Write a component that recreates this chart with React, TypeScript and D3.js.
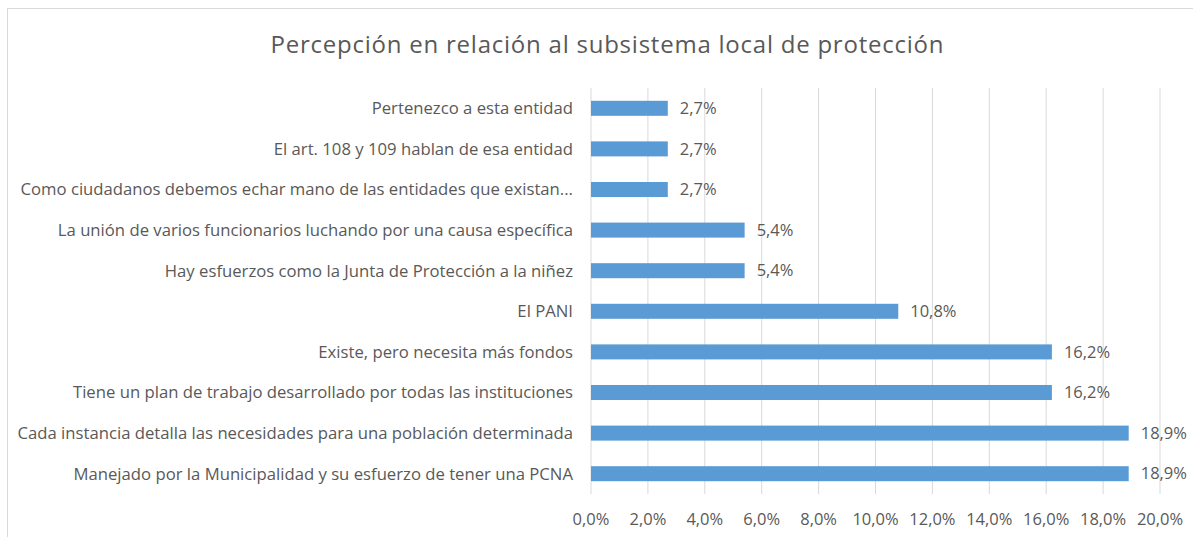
import React from "react";
import * as d3 from "d3";

const categories = [
  "Pertenezco a esta entidad",
  "El art. 108 y 109 hablan de esa entidad",
  "Como ciudadanos debemos echar mano de las entidades que existan...",
  "La unión de varios funcionarios luchando por una causa específica",
  "Hay esfuerzos como la Junta de Protección a la niñez",
  "El PANI",
  "Existe, pero necesita más fondos",
  "Tiene un plan de trabajo desarrollado por todas las instituciones",
  "Cada instancia detalla las necesidades para una población determinada",
  "Manejado por la Municipalidad y su esfuerzo de tener una PCNA",
];
const values = [2.7, 2.7, 2.7, 5.4, 5.4, 10.8, 16.2, 16.2, 18.9, 18.9];
const ticks = [0, 2, 4, 6, 8, 10, 12, 14, 16, 18, 20];

const title = "Percepción en relación al subsistema local de protección";
const font = "'Open Sans', 'Liberation Sans', sans-serif";
const grey = "#595959";

export default function App() {
  const x = d3.scaleLinear().domain([0, 20]).range([591, 1160]);
  const y = d3.scaleBand().domain(categories).range([88, 494]).paddingInner(0.63).paddingOuter(0.315);
  const fmt = (v: number) => v.toFixed(1).replace(".", ",") + "%";

  return (
    <svg width={1193} height={537} style={{ position: "absolute", left: 0, top: 0 }}>
      <rect x={0} y={0} width={1193} height={537} fill="#fff" />
      <rect x={7.5} y={8.5} width={1200} height={540} fill="#fff" stroke="#d9d9d9" />
      <text
        x={607}
        y={53}
        textAnchor="middle"
        fontFamily={font}
        fontSize={24}
        fill={grey}
        textLength={673}
        lengthAdjust="spacing"
      >
        {title}
      </text>
      {/* grid */}
      {ticks.map((t) => (
        <line key={t} x1={x(t)} x2={x(t)} y1={88} y2={494} stroke="#d9d9d9" strokeWidth={1} />
      ))}
      {/* bars */}
      {categories.map((c, i) => (
        <g key={c}>
          <rect x={x(0)} y={y(c)} width={x(values[i]) - x(0)} height={y.bandwidth()} fill="#5b9bd5" />
          <text
            x={x(values[i]) + 12}
            y={y(c)! + y.bandwidth() / 2}
            dy="0.35em"
            fontFamily={font}
            fontSize={16.5}
            fill={grey}
          >
            {fmt(values[i])}
          </text>
          <text
            x={573}
            y={y(c)! + y.bandwidth() / 2}
            dy="0.35em"
            textAnchor="end"
            fontFamily={font}
            fontSize={16.7}
            fill={grey}
          >
            {c}
          </text>
        </g>
      ))}
      {/* x axis labels */}
      {ticks.map((t) => (
        <text key={t} x={x(t)} y={519} dy="0.35em" textAnchor="middle" fontFamily={font} fontSize={16.5} fill={grey}>
          {fmt(t)}
        </text>
      ))}
    </svg>
  );
}
